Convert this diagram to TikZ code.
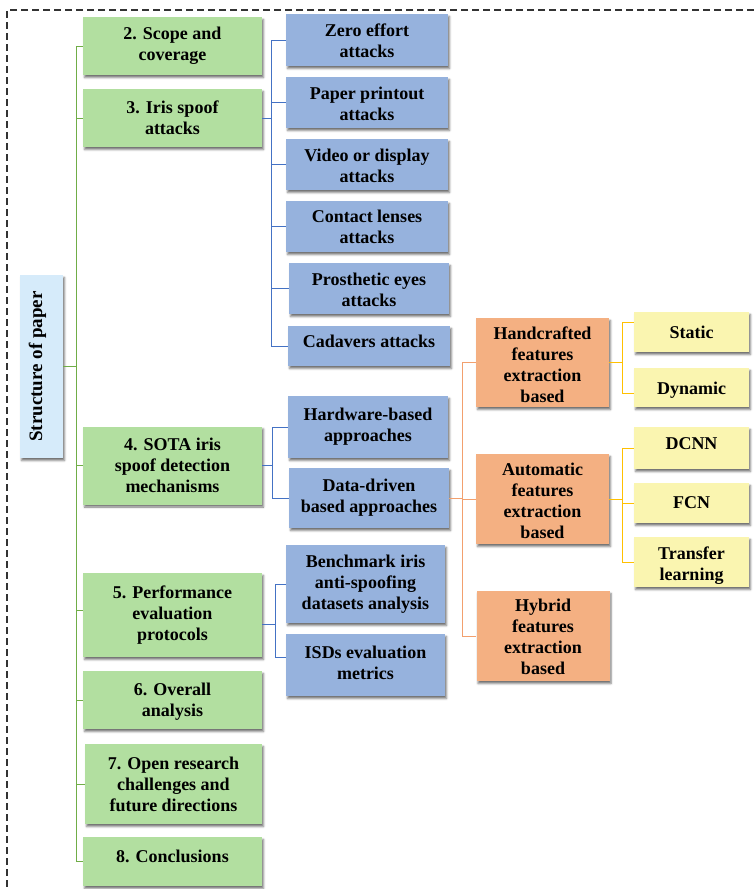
\documentclass[tikz,border=0pt]{standalone}
\usepackage{fontspec}
\setmainfont{Liberation Serif}
\usetikzlibrary{shadows.blur}

\definecolor{greenfill}{RGB}{178,223,160}
\definecolor{bluefill}{RGB}{150,178,221}
\definecolor{orangefill}{RGB}{244,176,130}
\definecolor{yellowfill}{RGB}{250,245,176}
\definecolor{rootfill}{RGB}{214,235,250}
\definecolor{greenline}{RGB}{112,173,71}
\definecolor{blueline}{RGB}{68,114,196}
\definecolor{orangeline}{RGB}{242,160,110}
\definecolor{yellowline}{RGB}{255,192,0}

% lower a (possibly multi-line) label by #1 pt without changing its box
\newcommand{\shiftlbl}[2]{\raisebox{-#1pt}[\height][\depth]{\begin{tabular}{@{}c@{}}#2\end{tabular}}}

\tikzset{
  boxbase/.style={rectangle, inner sep=0pt, align=center,
    font=\fontsize{18}{21}\selectfont\bfseries, text=black,
    blur shadow={shadow xshift=1.5pt, shadow yshift=-2.5pt,
      shadow blur radius=2pt, shadow opacity=55}},
  gbox/.style={boxbase, fill=greenfill, minimum width=179pt},
  bbox/.style={boxbase, fill=bluefill, minimum width=162pt},
  obox/.style={boxbase, fill=orangefill, minimum width=133pt},
  ybox/.style={boxbase, fill=yellowfill, minimum width=115pt},
  rbox/.style={boxbase, fill=rootfill, minimum width=43pt, minimum height=183pt},
  gline/.style={draw=greenline, line width=0.9pt},
  bline/.style={draw=blueline, line width=0.9pt},
  oline/.style={draw=orangeline, line width=0.9pt},
  yline/.style={draw=yellowline, line width=0.9pt},
  frame/.style={draw=black!80, line width=1.1pt, dash pattern=on 7pt off 4pt}
}

\begin{document}
\begin{tikzpicture}[x=1pt, y=-1pt]
\useasboundingbox (0,0) rectangle (754,889);

% outer dashed frame
\coordinate (fr) at (754,10);
\coordinate (fc) at (7,10);
\coordinate (fb) at (7,889);
\draw[frame] (fr) -- (fc) -- (fb);

% root
\node[rbox] (root) at (41.5,366.5) {\rotatebox{90}{\raisebox{4pt}[\height][\depth]{\fontsize{19}{21}\selectfont Structure of paper}}};

% sections
\node[gbox, minimum height=58pt] (s2) at (172.5,46) {2. Scope and\\coverage};
\node[gbox, minimum height=58pt] (s3) at (172.5,118) {3. Iris spoof\\attacks};
\node[gbox, minimum height=78pt] (s4) at (172.5,465.5) {4. SOTA iris\\spoof detection\\mechanisms};
\node[gbox, minimum height=84pt] (s5) at (172.5,615) {5. Performance\\evaluation\\protocols};
\node[gbox, minimum height=58pt] (s6) at (172.5,700) {\shiftlbl{2}{6. Overall\\analysis}};
\node[gbox, minimum height=80pt, minimum width=177pt] (s7) at (173.5,784) {7. Open research\\challenges and\\future directions};
\node[gbox, minimum height=49pt] (s8) at (172.5,861.5) {\raisebox{10pt}{8. Conclusions}};

% attack types
\node[bbox, minimum height=52pt] (b1) at (367,40) {\shiftlbl{3}{Zero effort\\attacks}};
\node[bbox, minimum height=51pt] (b2) at (367,102.5) {\shiftlbl{3}{Paper printout\\attacks}};
\node[bbox, minimum height=51pt] (b3) at (367,164.5) {\shiftlbl{3}{Video or display\\attacks}};
\node[bbox, minimum height=51pt] (b4) at (367,226.5) {\shiftlbl{2}{Contact lenses\\attacks}};
\node[bbox, minimum height=51pt, minimum width=160pt] (b5) at (369,288.5) {\shiftlbl{3}{Prosthetic eyes\\attacks}};
\node[bbox, minimum height=40pt] (b6) at (369,346) {\shiftlbl{-3}{Cadavers attacks}};

% detection mechanisms
\node[bbox, minimum height=62pt, minimum width=160pt] (b7) at (368,427) {Hardware-based\\approaches};
\node[bbox, minimum height=60pt, minimum width=160pt] (b8) at (369,498) {Data-driven\\based approaches};

% evaluation protocols
\node[bbox, minimum height=78pt, minimum width=159pt] (b9) at (365.5,584) {Benchmark iris\\anti-spoofing\\datasets analysis};
\node[bbox, minimum height=62pt, minimum width=159pt] (b10) at (365.5,665) {\raisebox{8pt}{\begin{tabular}{@{}c@{}}ISDs evaluation\\metrics\end{tabular}}};

% data-driven approaches
\node[obox, minimum height=89pt] (o1) at (542.5,362.5) {\shiftlbl{4}{Handcrafted\\features\\extraction\\based}};
\node[obox, minimum height=90pt] (o2) at (542.5,499) {\shiftlbl{4}{Automatic\\features\\extraction\\based}};
\node[obox, minimum height=90pt] (o3) at (543,636) {\shiftlbl{3}{Hybrid\\features\\extraction\\based}};

% feature families
\node[ybox, minimum height=40pt] (y1) at (691.5,332) {Static};
\node[ybox, minimum height=39pt] (y2) at (691.5,387.5) {\shiftlbl{3}{Dynamic}};
\node[ybox, minimum height=42pt] (y3) at (691.5,448) {\shiftlbl{-3}{DCNN}};
\node[ybox, minimum height=40pt] (y4) at (691.5,503) {FCN};
\node[ybox, minimum height=50pt] (y5) at (691.5,562) {\shiftlbl{4}{Transfer\\learning}};

% root to sections
\foreach \n/\dy in {s2/0, s3/0, s4/0, s5/5, s6/0, s7/0, s8/0}
  \draw[gline] (root.east) -- ([xshift=13pt]root.east) |- ([yshift=\dy pt]\n.west);

% section 3 to attack types
\foreach \n in {b1,b2,b3,b4,b5,b6}
  \draw[bline] (s3.east) -- ([xshift=9pt]s3.east) |- (\n.west);

% section 4 to mechanisms
\foreach \n in {b7,b8}
  \draw[bline] (s4.east) -- ([xshift=10pt]s4.east) |- (\n.west);

% section 5 to protocols
\foreach \n/\dy in {b9/0, b10/8}
  \draw[bline] ([yshift=-9pt]s5.east) -- ([xshift=13pt,yshift=-9pt]s5.east) |- ([yshift=\dy pt]\n.west);

% data-driven to feature extraction
\foreach \n in {o1,o2,o3}
  \draw[oline] (b8.east) -- ([xshift=13pt]b8.east) |- (\n.west);

% handcrafted to static/dynamic
\foreach \n/\dy in {y1/10, y2/-5.5}
  \draw[yline] (o1.east) -- ([xshift=13pt]o1.east) |- ([yshift=\dy pt]\n.west);

% automatic to network types
\foreach \n in {y3,y4,y5}
  \draw[yline] (o2.east) -- ([xshift=13pt]o2.east) |- (\n.west);

\end{tikzpicture}
\end{document}
